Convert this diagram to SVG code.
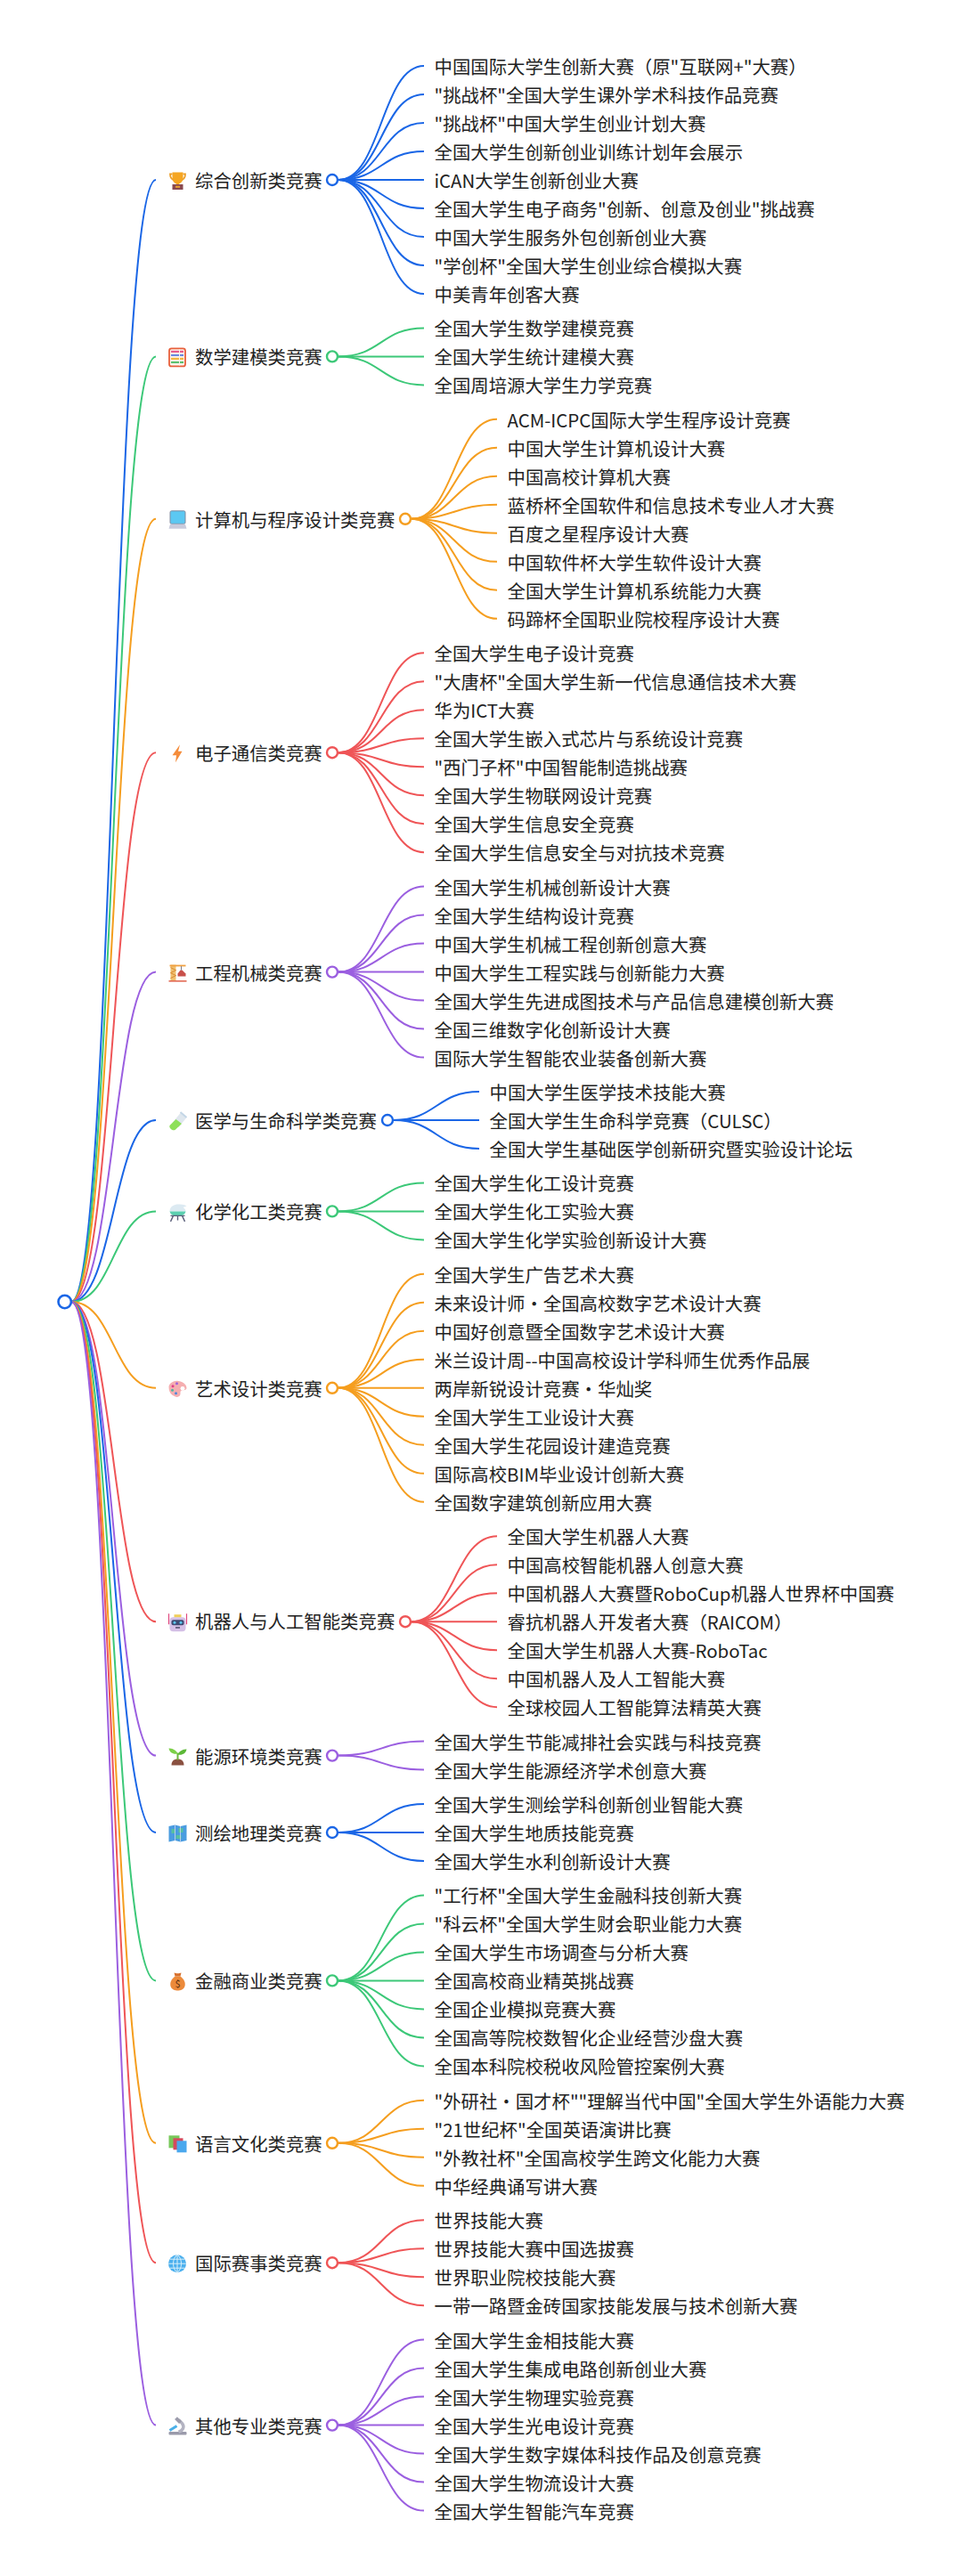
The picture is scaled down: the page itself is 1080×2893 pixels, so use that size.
<svg xmlns="http://www.w3.org/2000/svg" width="1080" height="2893" viewBox="0 0 1080 2893">
<style>
text{font-family:"Noto Sans CJK SC","Noto Sans",sans-serif;font-size:20.4px;fill:#222}
path.l{fill:none;stroke-width:2}
.c0{stroke:#1a66e6}.c1{stroke:#3cc878}.c2{stroke:#f59e1f}.c3{stroke:#ef5557}.c4{stroke:#9b5fe0}
circle.d{fill:#fff;stroke-width:2.4}
</style>
<rect width="1080" height="2893" fill="#fff"/>
<g id="connectors">
<path class="l c0" d="M80 1462C127.500 1462 127.500 202 175 202"/>
<path class="l c1" d="M80 1462C127.500 1462 127.500 400.400 175 400.400"/>
<path class="l c2" d="M80 1462C127.500 1462 127.500 582.800 175 582.800"/>
<path class="l c3" d="M80 1462C127.500 1462 127.500 845.200 175 845.200"/>
<path class="l c4" d="M80 1462C127.500 1462 127.500 1091.600 175 1091.600"/>
<path class="l c0" d="M80 1462C127.500 1462 127.500 1258 175 1258"/>
<path class="l c1" d="M80 1462C127.500 1462 127.500 1360.400 175 1360.400"/>
<path class="l c2" d="M80 1462C127.500 1462 127.500 1558.800 175 1558.800"/>
<path class="l c3" d="M80 1462C127.500 1462 127.500 1821.200 175 1821.200"/>
<path class="l c4" d="M80 1462C127.500 1462 127.500 1971.600 175 1971.600"/>
<path class="l c0" d="M80 1462C127.500 1462 127.500 2058 175 2058"/>
<path class="l c1" d="M80 1462C127.500 1462 127.500 2224.400 175 2224.400"/>
<path class="l c2" d="M80 1462C127.500 1462 127.500 2406.800 175 2406.800"/>
<path class="l c3" d="M80 1462C127.500 1462 127.500 2541.200 175 2541.200"/>
<path class="l c4" d="M80 1462C127.500 1462 127.500 2723.600 175 2723.600"/>

<path class="l c0" d="M380 202C428 202 428 74 476 74"/>
<path class="l c0" d="M380 202C428 202 428 106 476 106"/>
<path class="l c0" d="M380 202C428 202 428 138 476 138"/>
<path class="l c0" d="M380 202C428 202 428 170 476 170"/>
<path class="l c0" d="M380 202C428 202 428 202 476 202"/>
<path class="l c0" d="M380 202C428 202 428 234 476 234"/>
<path class="l c0" d="M380 202C428 202 428 266 476 266"/>
<path class="l c0" d="M380 202C428 202 428 298 476 298"/>
<path class="l c0" d="M380 202C428 202 428 330 476 330"/>

<path class="l c1" d="M380 400.400C428 400.400 428 368.400 476 368.400"/>
<path class="l c1" d="M380 400.400C428 400.400 428 400.400 476 400.400"/>
<path class="l c1" d="M380 400.400C428 400.400 428 432.400 476 432.400"/>

<path class="l c2" d="M462 582.800C510 582.800 510 470.800 558 470.800"/>
<path class="l c2" d="M462 582.800C510 582.800 510 502.800 558 502.800"/>
<path class="l c2" d="M462 582.800C510 582.800 510 534.800 558 534.800"/>
<path class="l c2" d="M462 582.800C510 582.800 510 566.800 558 566.800"/>
<path class="l c2" d="M462 582.800C510 582.800 510 598.800 558 598.800"/>
<path class="l c2" d="M462 582.800C510 582.800 510 630.800 558 630.800"/>
<path class="l c2" d="M462 582.800C510 582.800 510 662.800 558 662.800"/>
<path class="l c2" d="M462 582.800C510 582.800 510 694.800 558 694.800"/>

<path class="l c3" d="M380 845.200C428 845.200 428 733.200 476 733.200"/>
<path class="l c3" d="M380 845.200C428 845.200 428 765.200 476 765.200"/>
<path class="l c3" d="M380 845.200C428 845.200 428 797.200 476 797.200"/>
<path class="l c3" d="M380 845.200C428 845.200 428 829.200 476 829.200"/>
<path class="l c3" d="M380 845.200C428 845.200 428 861.200 476 861.200"/>
<path class="l c3" d="M380 845.200C428 845.200 428 893.200 476 893.200"/>
<path class="l c3" d="M380 845.200C428 845.200 428 925.200 476 925.200"/>
<path class="l c3" d="M380 845.200C428 845.200 428 957.200 476 957.200"/>

<path class="l c4" d="M380 1091.600C428 1091.600 428 995.600 476 995.600"/>
<path class="l c4" d="M380 1091.600C428 1091.600 428 1027.600 476 1027.600"/>
<path class="l c4" d="M380 1091.600C428 1091.600 428 1059.600 476 1059.600"/>
<path class="l c4" d="M380 1091.600C428 1091.600 428 1091.600 476 1091.600"/>
<path class="l c4" d="M380 1091.600C428 1091.600 428 1123.600 476 1123.600"/>
<path class="l c4" d="M380 1091.600C428 1091.600 428 1155.600 476 1155.600"/>
<path class="l c4" d="M380 1091.600C428 1091.600 428 1187.600 476 1187.600"/>

<path class="l c0" d="M442 1258C490 1258 490 1226 538 1226"/>
<path class="l c0" d="M442 1258C490 1258 490 1258 538 1258"/>
<path class="l c0" d="M442 1258C490 1258 490 1290 538 1290"/>

<path class="l c1" d="M380 1360.400C428 1360.400 428 1328.400 476 1328.400"/>
<path class="l c1" d="M380 1360.400C428 1360.400 428 1360.400 476 1360.400"/>
<path class="l c1" d="M380 1360.400C428 1360.400 428 1392.400 476 1392.400"/>

<path class="l c2" d="M380 1558.800C428 1558.800 428 1430.800 476 1430.800"/>
<path class="l c2" d="M380 1558.800C428 1558.800 428 1462.800 476 1462.800"/>
<path class="l c2" d="M380 1558.800C428 1558.800 428 1494.800 476 1494.800"/>
<path class="l c2" d="M380 1558.800C428 1558.800 428 1526.800 476 1526.800"/>
<path class="l c2" d="M380 1558.800C428 1558.800 428 1558.800 476 1558.800"/>
<path class="l c2" d="M380 1558.800C428 1558.800 428 1590.800 476 1590.800"/>
<path class="l c2" d="M380 1558.800C428 1558.800 428 1622.800 476 1622.800"/>
<path class="l c2" d="M380 1558.800C428 1558.800 428 1654.800 476 1654.800"/>
<path class="l c2" d="M380 1558.800C428 1558.800 428 1686.800 476 1686.800"/>

<path class="l c3" d="M462 1821.200C510 1821.200 510 1725.200 558 1725.200"/>
<path class="l c3" d="M462 1821.200C510 1821.200 510 1757.200 558 1757.200"/>
<path class="l c3" d="M462 1821.200C510 1821.200 510 1789.200 558 1789.200"/>
<path class="l c3" d="M462 1821.200C510 1821.200 510 1821.200 558 1821.200"/>
<path class="l c3" d="M462 1821.200C510 1821.200 510 1853.200 558 1853.200"/>
<path class="l c3" d="M462 1821.200C510 1821.200 510 1885.200 558 1885.200"/>
<path class="l c3" d="M462 1821.200C510 1821.200 510 1917.200 558 1917.200"/>

<path class="l c4" d="M380 1971.600C428 1971.600 428 1955.600 476 1955.600"/>
<path class="l c4" d="M380 1971.600C428 1971.600 428 1987.600 476 1987.600"/>

<path class="l c0" d="M380 2058C428 2058 428 2026 476 2026"/>
<path class="l c0" d="M380 2058C428 2058 428 2058 476 2058"/>
<path class="l c0" d="M380 2058C428 2058 428 2090 476 2090"/>

<path class="l c1" d="M380 2224.400C428 2224.400 428 2128.400 476 2128.400"/>
<path class="l c1" d="M380 2224.400C428 2224.400 428 2160.400 476 2160.400"/>
<path class="l c1" d="M380 2224.400C428 2224.400 428 2192.400 476 2192.400"/>
<path class="l c1" d="M380 2224.400C428 2224.400 428 2224.400 476 2224.400"/>
<path class="l c1" d="M380 2224.400C428 2224.400 428 2256.400 476 2256.400"/>
<path class="l c1" d="M380 2224.400C428 2224.400 428 2288.400 476 2288.400"/>
<path class="l c1" d="M380 2224.400C428 2224.400 428 2320.400 476 2320.400"/>

<path class="l c2" d="M380 2406.800C428 2406.800 428 2358.800 476 2358.800"/>
<path class="l c2" d="M380 2406.800C428 2406.800 428 2390.800 476 2390.800"/>
<path class="l c2" d="M380 2406.800C428 2406.800 428 2422.800 476 2422.800"/>
<path class="l c2" d="M380 2406.800C428 2406.800 428 2454.800 476 2454.800"/>

<path class="l c3" d="M380 2541.200C428 2541.200 428 2493.200 476 2493.200"/>
<path class="l c3" d="M380 2541.200C428 2541.200 428 2525.200 476 2525.200"/>
<path class="l c3" d="M380 2541.200C428 2541.200 428 2557.200 476 2557.200"/>
<path class="l c3" d="M380 2541.200C428 2541.200 428 2589.200 476 2589.200"/>

<path class="l c4" d="M380 2723.600C428 2723.600 428 2627.600 476 2627.600"/>
<path class="l c4" d="M380 2723.600C428 2723.600 428 2659.600 476 2659.600"/>
<path class="l c4" d="M380 2723.600C428 2723.600 428 2691.600 476 2691.600"/>
<path class="l c4" d="M380 2723.600C428 2723.600 428 2723.600 476 2723.600"/>
<path class="l c4" d="M380 2723.600C428 2723.600 428 2755.600 476 2755.600"/>
<path class="l c4" d="M380 2723.600C428 2723.600 428 2787.600 476 2787.600"/>
<path class="l c4" d="M380 2723.600C428 2723.600 428 2819.600 476 2819.600"/>
</g>

<g id="root"><circle class="d c0" cx="72.700" cy="1462" r="7.200" style="stroke-width:2.6"/></g>

<g id="b01"><g transform="translate(199.500 203)"><path fill="#f5a623" d="M-6-9.500H6V-3C6 1 3 3 1.500 3.500V5H-1.500V3.500C-3 3-6 1-6-3Z"/><path fill="none" stroke="#eda02a" stroke-width="1.800" d="M-6-7.500H-8.500C-8.500-3-7-2-5-1M6-7.500H8.500C8.500-3 7-2 5-1"/><rect x="-6" y="4" width="12" height="6" fill="#8a4a50"/><rect x="-2.500" y="5.800" width="5" height="2" fill="#e8a030"/></g><text x="219" y="211">综合创新类竞赛</text><circle class="d c0" cx="373" cy="202" r="6"/></g>
<g id="b02"><g transform="translate(199 401.400)"><rect x="-9" y="-10" width="18" height="20" rx="2.500" fill="#fdf3ea" stroke="#e8603c" stroke-width="1.800"/><path stroke-width="2.200" fill="none" d="M-7-6.500H7" stroke="#e85a8a"/><path stroke-width="2.200" fill="none" d="M-7-2.500H7" stroke="#6a8ae0"/><path stroke-width="2.200" fill="none" d="M-7 1.500H7" stroke="#f2b640"/><path stroke-width="2.200" fill="none" d="M-7 5.500H7" stroke="#5cc070"/><path stroke="#fdf3ea" stroke-width="1" fill="none" d="M2.500-9V9"/></g><text x="219" y="409.400">数学建模类竞赛</text><circle class="d c1" cx="373" cy="400.400" r="6"/></g>
<g id="b03"><g transform="translate(199.500 583.800)"><rect x="-8.500" y="-10" width="17" height="14.500" rx="1.500" fill="#5cc8f2" stroke="#7f8aa0"/><path fill="#c9cbdc" d="M-8.500 5H8.500L10 10H-10Z"/></g><text x="219" y="591.800">计算机与程序设计类竞赛</text><circle class="d c2" cx="455" cy="582.800" r="6"/></g>
<g id="b04"><g transform="translate(199 846.200)"><path fill="#f58d3c" d="M3-10L-5.500 2H-1L-2 10L5.500-2.500H1Z"/></g><text x="219" y="854.200">电子通信类竞赛</text><circle class="d c3" cx="373" cy="845.200" r="6"/></g>
<g id="b05"><g transform="translate(199.500 1092.600)"><rect x="-8" y="-9" width="6" height="18" fill="#f0c070"/><path stroke="#d88a30" fill="none" d="M-8-6L-2-3M-2-3L-8 0M-8 0L-2 3M-2 3L-8 6"/><rect x="-9" y="-9" width="18" height="1.800" fill="#f0a040"/><path fill="#c8504a" d="M0 1L3-3H5L9 1V4H0Z"/><rect x="-10" y="8.500" width="20" height="1.500" fill="#e0604a"/><path stroke="#7a7a8a" stroke-width="1" d="M4-7.500V-3"/></g><text x="219" y="1100.600">工程机械类竞赛</text><circle class="d c4" cx="373" cy="1091.600" r="6"/></g>
<g id="b06"><g transform="translate(199.500 1259)"><path fill="#dfe7ee" d="M3-9L10-4L1 7L-6 2Z"/><path fill="#8ee05a" d="M-2-2L4.500 3L-3 10C-6 11.500-10 8-9 5Z"/><path stroke="#c3d6e6" stroke-width="2" fill="none" d="M3-10L10-4"/></g><text x="219" y="1267">医学与生命科学类竞赛</text><circle class="d c0" cx="435" cy="1258" r="6"/></g>
<g id="b07"><g transform="translate(199.500 1361.400)"><path fill="#dceaf2" d="M-9-1C-9-7-3-9 0-9C3-9 7-9 10-7L6-5.500C8-4 9-3 9-1Z"/><path fill="#5cd0b0" d="M-9-1H9C8 3 5 4 0 4S-8 3-9-1Z"/><path stroke="#5a5f7a" stroke-width="1.400" fill="none" d="M-8 4H8M-5 4L-8 10.500M5 4L8 10.500M0 4V9"/></g><text x="219" y="1369.400">化学化工类竞赛</text><circle class="d c1" cx="373" cy="1360.400" r="6"/></g>
<g id="b08"><g transform="translate(199.500 1559.800)"><path fill="#f5aeb0" d="M-1-9C5-9 10-5 10-1C10 2 6 1 4 2C2 3 4 6 2 8C0 10-3 9-6 7C-9 5-10 1-10-2C-10-6-5-9-1-9Z"/><circle cx="5.500" cy="-0.500" r="2.400" fill="#fff"/><circle cx="-5.500" cy="-3" r="1.500" fill="#e0408a"/><circle cx="-1" cy="-6" r="1.500" fill="#a060d8"/><circle cx="-6" cy="1.500" r="1.500" fill="#50b8a0"/><circle cx="-2" cy="5" r="1.500" fill="#5088d8"/></g><text x="219" y="1567.800">艺术设计类竞赛</text><circle class="d c2" cx="373" cy="1558.800" r="6"/></g>
<g id="b09"><g transform="translate(199.500 1822.200)"><rect x="-9" y="-6" width="18" height="16" rx="4" fill="#d4bfe6"/><rect x="-7" y="-3" width="14" height="6" rx="2" fill="#3c4a72"/><circle cx="-3.500" cy="0" r="1.500" fill="#5cc8f2"/><circle cx="3.500" cy="0" r="1.500" fill="#5cc8f2"/><rect x="-2.500" y="5" width="5" height="1.500" fill="#4a4a6a"/><path fill="#f0cf5a" d="M-4-6V-9H4V-6Z"/><path stroke="#e04a80" stroke-width="1.200" fill="none" d="M-10-10V2M10-10V2"/></g><text x="219" y="1829.200">机器人与人工智能类竞赛</text><circle class="d c3" cx="455" cy="1821.200" r="6"/></g>
<g id="b10"><g transform="translate(199.500 1972.600)"><path fill="#8a5040" d="M-7 10C-7 4-3 3 0 3S7 4 7 10Z"/><path stroke="#6cb83c" stroke-width="2" fill="none" d="M0 4V-4"/><path fill="#7cd048" d="M0-3C-2-8-7-9-10-9C-9-4-5-2 0-3Z"/><path fill="#5cb838" d="M0-2C2-7 7-8 10-8C9-3 5-1 0-2Z"/></g><text x="219" y="1980.600">能源环境类竞赛</text><circle class="d c4" cx="373" cy="1971.600" r="6"/></g>
<g id="b11"><g transform="translate(199.500 2059)"><path fill="#4a9ce0" d="M-10-8L-3-9.500L3-8L10-9.500V8L3 9.500L-3 8L-10 9.500Z"/><path fill="#58c0a0" d="M-7-5H-3V0H-7ZM1-6H6V-1H1ZM-2 2H4V6H-2Z"/><path stroke="#d0d8f0" stroke-width="0.800" fill="none" d="M-3-9.500V8M3-8V9.500"/></g><text x="219" y="2067">测绘地理类竞赛</text><circle class="d c0" cx="373" cy="2058" r="6"/></g>
<g id="b12"><g transform="translate(199.500 2225.400)"><path fill="#ec8a3a" d="M-3-6H3C7-3 9 1 8 5C7 9 3 10 0 10S-7 9-8 5C-9 1-7-3-3-6Z"/><path fill="#d8702c" d="M-4-10C-2-9 2-9 4-10L3-6H-3Z"/><text x="0" y="6.500" text-anchor="middle" style="font-size:11px;fill:#5a3010">$</text></g><text x="219" y="2233.400">金融商业类竞赛</text><circle class="d c1" cx="373" cy="2224.400" r="6"/></g>
<g id="b13"><g transform="translate(199.500 2407.800)"><rect x="-10" y="-9.500" width="12" height="14" fill="#78c85a"/><rect x="-5" y="-6.500" width="11" height="13" fill="#d44a5e"/><rect x="-1" y="-3.500" width="11" height="13" fill="#4aa8ee"/></g><text x="219" y="2415.800">语言文化类竞赛</text><circle class="d c2" cx="373" cy="2406.800" r="6"/></g>
<g id="b14"><g transform="translate(199 2542.200)"><circle r="10" fill="#4cb0ee"/><path stroke="#d8effa" stroke-width="1" fill="none" d="M-10 0H10M0-10V10M-8.500-5H8.500M-8.500 5H8.500M0-10C-6-6-6 6 0 10M0-10C6-6 6 6 0 10"/></g><text x="219" y="2550.200">国际赛事类竞赛</text><circle class="d c3" cx="373" cy="2541.200" r="6"/></g>
<g id="b15"><g transform="translate(199.500 2724.600)"><rect x="-10" y="6.500" width="20" height="3.500" rx="1" fill="#9a9aaa"/><path stroke="#b4b4c2" stroke-width="3.500" fill="none" d="M1-7L5-3C8 1 6 5 1 6.500"/><path stroke="#9c9cac" stroke-width="4" fill="none" d="M-2-9L3-4"/><path stroke="#4ab0e8" stroke-width="3" fill="none" d="M-9 5L-1 0"/></g><text x="219" y="2732.600">其他专业类竞赛</text><circle class="d c4" cx="373" cy="2723.600" r="6"/></g>

<g id="n01-1"><text x="487.500" y="83">中国国际大学生创新大赛（原"互联网+"大赛）</text></g>
<g id="n01-2"><text x="487.500" y="115">"挑战杯"全国大学生课外学术科技作品竞赛</text></g>
<g id="n01-3"><text x="487.500" y="147">"挑战杯"中国大学生创业计划大赛</text></g>
<g id="n01-4"><text x="487.500" y="179">全国大学生创新创业训练计划年会展示</text></g>
<g id="n01-5"><text x="487.500" y="211">iCAN大学生创新创业大赛</text></g>
<g id="n01-6"><text x="487.500" y="243">全国大学生电子商务"创新、创意及创业"挑战赛</text></g>
<g id="n01-7"><text x="487.500" y="275">中国大学生服务外包创新创业大赛</text></g>
<g id="n01-8"><text x="487.500" y="307">"学创杯"全国大学生创业综合模拟大赛</text></g>
<g id="n01-9"><text x="487.500" y="339">中美青年创客大赛</text></g>
<g id="n02-1"><text x="487.500" y="377.400">全国大学生数学建模竞赛</text></g>
<g id="n02-2"><text x="487.500" y="409.400">全国大学生统计建模大赛</text></g>
<g id="n02-3"><text x="487.500" y="441.400">全国周培源大学生力学竞赛</text></g>
<g id="n03-1"><text x="569.500" y="479.800">ACM-ICPC国际大学生程序设计竞赛</text></g>
<g id="n03-2"><text x="569.500" y="511.800">中国大学生计算机设计大赛</text></g>
<g id="n03-3"><text x="569.500" y="543.800">中国高校计算机大赛</text></g>
<g id="n03-4"><text x="569.500" y="575.800">蓝桥杯全国软件和信息技术专业人才大赛</text></g>
<g id="n03-5"><text x="569.500" y="607.800">百度之星程序设计大赛</text></g>
<g id="n03-6"><text x="569.500" y="639.800">中国软件杯大学生软件设计大赛</text></g>
<g id="n03-7"><text x="569.500" y="671.800">全国大学生计算机系统能力大赛</text></g>
<g id="n03-8"><text x="569.500" y="703.800">码蹄杯全国职业院校程序设计大赛</text></g>
<g id="n04-1"><text x="487.500" y="742.200">全国大学生电子设计竞赛</text></g>
<g id="n04-2"><text x="487.500" y="774.200">"大唐杯"全国大学生新一代信息通信技术大赛</text></g>
<g id="n04-3"><text x="487.500" y="806.200">华为ICT大赛</text></g>
<g id="n04-4"><text x="487.500" y="838.200">全国大学生嵌入式芯片与系统设计竞赛</text></g>
<g id="n04-5"><text x="487.500" y="870.200">"西门子杯"中国智能制造挑战赛</text></g>
<g id="n04-6"><text x="487.500" y="902.200">全国大学生物联网设计竞赛</text></g>
<g id="n04-7"><text x="487.500" y="934.200">全国大学生信息安全竞赛</text></g>
<g id="n04-8"><text x="487.500" y="966.200">全国大学生信息安全与对抗技术竞赛</text></g>
<g id="n05-1"><text x="487.500" y="1004.600">全国大学生机械创新设计大赛</text></g>
<g id="n05-2"><text x="487.500" y="1036.600">全国大学生结构设计竞赛</text></g>
<g id="n05-3"><text x="487.500" y="1068.600">中国大学生机械工程创新创意大赛</text></g>
<g id="n05-4"><text x="487.500" y="1100.600">中国大学生工程实践与创新能力大赛</text></g>
<g id="n05-5"><text x="487.500" y="1132.600">全国大学生先进成图技术与产品信息建模创新大赛</text></g>
<g id="n05-6"><text x="487.500" y="1164.600">全国三维数字化创新设计大赛</text></g>
<g id="n05-7"><text x="487.500" y="1196.600">国际大学生智能农业装备创新大赛</text></g>
<g id="n06-1"><text x="549.500" y="1235">中国大学生医学技术技能大赛</text></g>
<g id="n06-2"><text x="549.500" y="1267">全国大学生生命科学竞赛（CULSC）</text></g>
<g id="n06-3"><text x="549.500" y="1299">全国大学生基础医学创新研究暨实验设计论坛</text></g>
<g id="n07-1"><text x="487.500" y="1337.400">全国大学生化工设计竞赛</text></g>
<g id="n07-2"><text x="487.500" y="1369.400">全国大学生化工实验大赛</text></g>
<g id="n07-3"><text x="487.500" y="1401.400">全国大学生化学实验创新设计大赛</text></g>
<g id="n08-1"><text x="487.500" y="1439.800">全国大学生广告艺术大赛</text></g>
<g id="n08-2"><text x="487.500" y="1471.800">未来设计师·全国高校数字艺术设计大赛</text></g>
<g id="n08-3"><text x="487.500" y="1503.800">中国好创意暨全国数字艺术设计大赛</text></g>
<g id="n08-4"><text x="487.500" y="1535.800">米兰设计周--中国高校设计学科师生优秀作品展</text></g>
<g id="n08-5"><text x="487.500" y="1567.800">两岸新锐设计竞赛·华灿奖</text></g>
<g id="n08-6"><text x="487.500" y="1599.800">全国大学生工业设计大赛</text></g>
<g id="n08-7"><text x="487.500" y="1631.800">全国大学生花园设计建造竞赛</text></g>
<g id="n08-8"><text x="487.500" y="1663.800">国际高校BIM毕业设计创新大赛</text></g>
<g id="n08-9"><text x="487.500" y="1695.800">全国数字建筑创新应用大赛</text></g>
<g id="n09-1"><text x="569.500" y="1734.200">全国大学生机器人大赛</text></g>
<g id="n09-2"><text x="569.500" y="1766.200">中国高校智能机器人创意大赛</text></g>
<g id="n09-3"><text x="569.500" y="1798.200">中国机器人大赛暨RoboCup机器人世界杯中国赛</text></g>
<g id="n09-4"><text x="569.500" y="1830.200">睿抗机器人开发者大赛（RAICOM）</text></g>
<g id="n09-5"><text x="569.500" y="1862.200">全国大学生机器人大赛-RoboTac</text></g>
<g id="n09-6"><text x="569.500" y="1894.200">中国机器人及人工智能大赛</text></g>
<g id="n09-7"><text x="569.500" y="1926.200">全球校园人工智能算法精英大赛</text></g>
<g id="n10-1"><text x="487.500" y="1964.600">全国大学生节能减排社会实践与科技竞赛</text></g>
<g id="n10-2"><text x="487.500" y="1996.600">全国大学生能源经济学术创意大赛</text></g>
<g id="n11-1"><text x="487.500" y="2035">全国大学生测绘学科创新创业智能大赛</text></g>
<g id="n11-2"><text x="487.500" y="2067">全国大学生地质技能竞赛</text></g>
<g id="n11-3"><text x="487.500" y="2099">全国大学生水利创新设计大赛</text></g>
<g id="n12-1"><text x="487.500" y="2137.400">"工行杯"全国大学生金融科技创新大赛</text></g>
<g id="n12-2"><text x="487.500" y="2169.400">"科云杯"全国大学生财会职业能力大赛</text></g>
<g id="n12-3"><text x="487.500" y="2201.400">全国大学生市场调查与分析大赛</text></g>
<g id="n12-4"><text x="487.500" y="2233.400">全国高校商业精英挑战赛</text></g>
<g id="n12-5"><text x="487.500" y="2265.400">全国企业模拟竞赛大赛</text></g>
<g id="n12-6"><text x="487.500" y="2297.400">全国高等院校数智化企业经营沙盘大赛</text></g>
<g id="n12-7"><text x="487.500" y="2329.400">全国本科院校税收风险管控案例大赛</text></g>
<g id="n13-1"><text x="487.500" y="2367.800">"外研社·国才杯""理解当代中国"全国大学生外语能力大赛</text></g>
<g id="n13-2"><text x="487.500" y="2399.800">"21世纪杯"全国英语演讲比赛</text></g>
<g id="n13-3"><text x="487.500" y="2431.800">"外教社杯"全国高校学生跨文化能力大赛</text></g>
<g id="n13-4"><text x="487.500" y="2463.800">中华经典诵写讲大赛</text></g>
<g id="n14-1"><text x="487.500" y="2502.200">世界技能大赛</text></g>
<g id="n14-2"><text x="487.500" y="2534.200">世界技能大赛中国选拔赛</text></g>
<g id="n14-3"><text x="487.500" y="2566.200">世界职业院校技能大赛</text></g>
<g id="n14-4"><text x="487.500" y="2598.200">一带一路暨金砖国家技能发展与技术创新大赛</text></g>
<g id="n15-1"><text x="487.500" y="2636.600">全国大学生金相技能大赛</text></g>
<g id="n15-2"><text x="487.500" y="2668.600">全国大学生集成电路创新创业大赛</text></g>
<g id="n15-3"><text x="487.500" y="2700.600">全国大学生物理实验竞赛</text></g>
<g id="n15-4"><text x="487.500" y="2732.600">全国大学生光电设计竞赛</text></g>
<g id="n15-5"><text x="487.500" y="2764.600">全国大学生数字媒体科技作品及创意竞赛</text></g>
<g id="n15-6"><text x="487.500" y="2796.600">全国大学生物流设计大赛</text></g>
<g id="n15-7"><text x="487.500" y="2828.600">全国大学生智能汽车竞赛</text></g>
</svg>
